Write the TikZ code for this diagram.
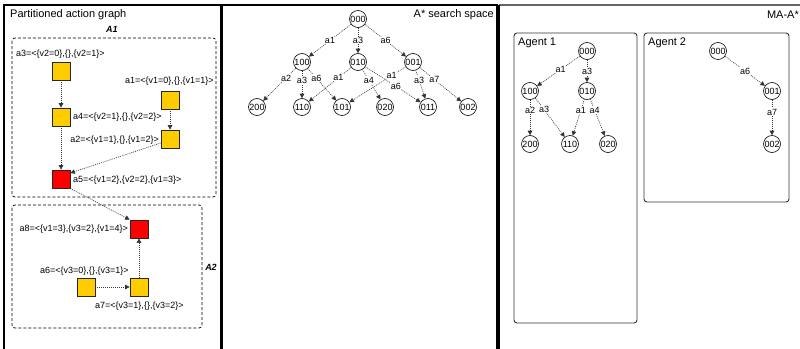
\documentclass[tikz,border=0pt]{standalone}
\usepackage{fontspec}
\setmainfont{Liberation Sans}
\usetikzlibrary{arrows.meta,calc}
\definecolor{actyellow}{HTML}{FFCC00}
\definecolor{actred}{HTML}{FF0000}
\definecolor{edgegray}{HTML}{333333}
\begin{document}
\begin{tikzpicture}[x=1pt,y=-1pt,
  panel/.style={draw=black,line width=1.1pt},
  group/.style={draw=black,dash pattern=on 3pt off 2pt,rounded corners=3pt,line width=0.7pt},
  agentbox/.style={draw=black!80,rounded corners=3pt,line width=0.9pt},
  act/.style={draw=black!85,line width=0.7pt,minimum size=18pt,inner sep=0pt,fill=actyellow},
  goal/.style={act,fill=actred},
  alabel/.style={inner sep=0pt,font=\fontsize{9}{10}\selectfont},
  title/.style={inner sep=0pt,font=\fontsize{11}{13}\selectfont},
  tag/.style={inner sep=0pt,font=\fontsize{9}{10}\selectfont\bfseries\itshape},
  state/.style={circle,draw=black,line width=0.6pt,minimum size=17pt,inner sep=0pt,font=\fontsize{9}{10}\selectfont},
  link/.style={draw=edgegray,dash pattern=on 1pt off 1pt,line width=0.6pt,-{Triangle[length=4.5pt,width=4.5pt]}},
  elab/.style={fill=white,inner sep=0.6pt,font=\fontsize{9}{10}\selectfont},
]
\useasboundingbox (0,0) rectangle (800,348);

% ---------- panels ----------
\draw[panel] (4,360) -- (4,5) -- (221,5) -- (221,360);
\draw[panel] (222,360) -- (222,5) -- (497,5) -- (497,360);
\draw[draw=black!60,line width=1.1pt] (499,5) -- (810,5);
\draw[panel] (499,5) -- (499,360);

\node[title,anchor=west] (ttl1) at (10,15) {Partitioned action graph};
\node[title,anchor=east] (ttl2) at (494,15) {A* search space};
\node[title,anchor=east] (ttl3) at (799,15) {MA-A*};

% ---------- partitioned action graph ----------
\draw[group] (12,38) rectangle (216,197);
\draw[group] (12,205) rectangle (202,328);
\node[tag] (tA1) at (112,29) {A1};
\node[tag] (tA2) at (211,267) {A2};

\node[act]  (a3) at (61,71)  {};
\node[act]  (a4) at (61,117) {};
\node[goal] (a5) at (61,179) {};
\node[act]  (a1) at (170,100) {};
\node[act]  (a2) at (170,139) {};
\node[goal] (a8) at (139,229) {};
\node[act]  (a6) at (86,287) {};
\node[act]  (a7) at (139,287) {};

\node[alabel,anchor=west] (l3) at (16,54)  {a3=<\{v2=0\},\{\},\{v2=1\}>};
\node[alabel,anchor=west] (l4) at (73,117) {a4=<\{v2=1\},\{\},\{v2=2\}>};
\node[alabel,anchor=west] (l1) at (125,81) {a1=<\{v1=0\},\{\},\{v1=1\}>};
\node[alabel,anchor=east] (l2) at (159,140) {a2=<\{v1=1\},\{\},\{v1=2\}>};
\node[alabel,anchor=west] (l5) at (73,180) {a5=<\{v1=2\},\{v2=2\},\{v1=3\}>};
\node[alabel,anchor=east] (l8) at (128,229) {a8=<\{v1=3\},\{v3=2\},\{v1=4\}>};
\node[alabel,anchor=west] (l6) at (40,271) {a6=<\{v3=0\},\{\},\{v3=1\}>};
\node[alabel,anchor=west] (l7) at (95,306) {a7=<\{v3=1\},\{\},\{v3=2\}>};

\draw[link] (a3) -- (a4);
\draw[link] (a4) -- (a5);
\draw[link] (a1) -- (a2);
\draw[link] ([yshift=-4pt]a2.west) -- ([yshift=6pt]a5.east);
\draw[link] (a5.south east) -- (a8.north west);
\draw[link] (a6) -- (a7);
\draw[link] (a7) -- (a8);

% ---------- A* search space ----------
\node[state] (s000) at (358,19) {000};
\node[state] (s100) at (302,62) {100};
\node[state] (s010) at (358,62) {010};
\node[state] (s001) at (413,62) {001};
\node[state] (s200) at (257,107) {200};
\node[state] (s110) at (302,107) {110};
\node[state] (s101) at (342,107) {101};
\node[state] (s020) at (385,107) {020};
\node[state] (s011) at (428,107) {011};
\node[state] (s002) at (468,107) {002};

\draw[link] (s000) -- node[elab,pos=0.5] {a1} (s100);
\draw[link] (s000) -- node[elab,pos=0.5] {a3} (s010);
\draw[link] (s000) -- node[elab,pos=0.5] {a6} (s001);
\draw[link] (s100) -- node[elab,pos=0.3] {a2} (s200);
\draw[link] (s100) -- node[elab,pos=0.35] {a3} (s110);
\draw[link] (s100) -- node[elab,pos=0.3] {a6} (s101);
\draw[link] (s010) -- node[elab,pos=0.3] {a1} (s110);
\draw[link] (s010) -- node[elab,pos=0.35] {a4} (s020);
\draw[link] (s010) -- node[elab,pos=0.55] {a6} (s011);
\draw[link] (s001) -- node[elab,pos=0.25] {a1} (s101);
\draw[link] (s001) -- node[elab,pos=0.35] {a3} (s011);
\draw[link] (s001) -- node[elab,pos=0.35] {a7} (s002);

% ---------- MA-A* ----------
\draw[agentbox] (514,33) rectangle (637,323);
\draw[agentbox] (644,33) rectangle (789,202);
\node[title,anchor=west] (ag1) at (518,43) {Agent 1};
\node[title,anchor=west] (ag2) at (648,43) {Agent 2};

\node[state] (p000) at (587,51)  {000};
\node[state] (p100) at (530,91)  {100};
\node[state] (p010) at (587,91)  {010};
\node[state] (p200) at (530,144) {200};
\node[state] (p110) at (570,144) {110};
\node[state] (p020) at (608,144) {020};

\draw[link] (p000) -- node[elab,pos=0.45] {a1} (p100);
\draw[link] (p000) -- node[elab,pos=0.5] {a3} (p010);
\draw[link] (p100) -- node[elab,pos=0.3] {a2} (p200);
\draw[link] (p100) -- node[elab,pos=0.3] {a3} (p110);
\draw[link] (p010) -- node[elab,pos=0.3] {a1} (p110);
\draw[link] (p010) -- node[elab,pos=0.3] {a4} (p020);

\node[state] (q000) at (718,51)  {000};
\node[state] (q001) at (772,91)  {001};
\node[state] (q002) at (772,144) {002};

\draw[link] (q000) -- node[elab,pos=0.5] {a6} (q001);
\draw[link] (q001) -- node[elab,pos=0.35] {a7} (q002);
\end{tikzpicture}
\end{document}
